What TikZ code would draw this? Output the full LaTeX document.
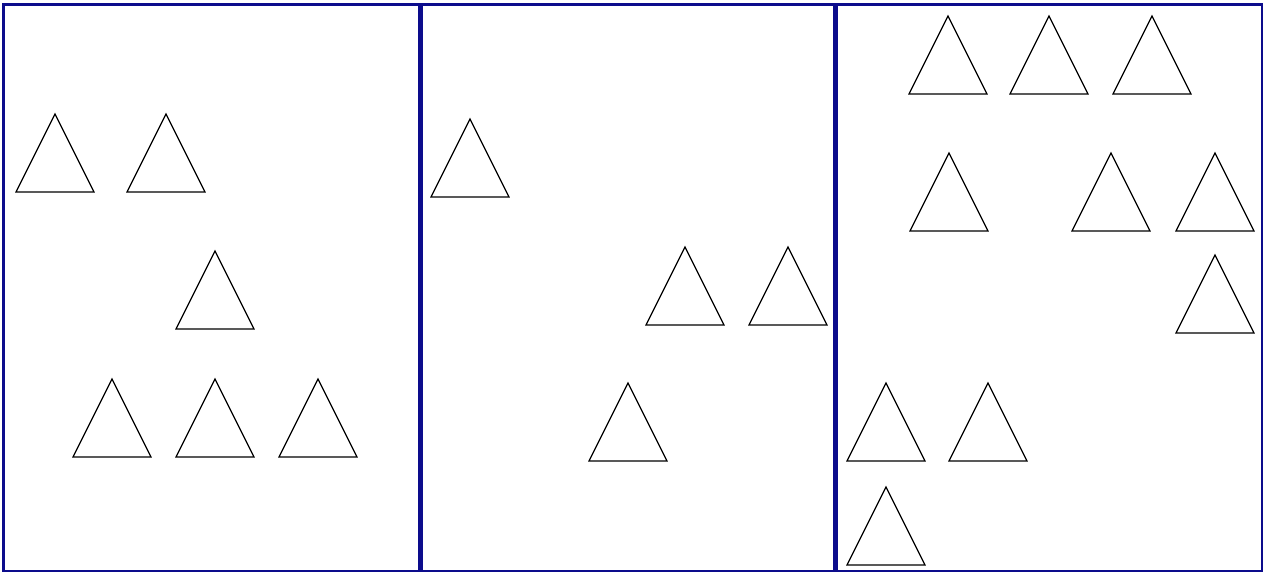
\documentclass[tikz,border=0pt]{standalone}
\definecolor{panelblue}{RGB}{12,12,140}
\tikzset{
  panel/.style={draw=panelblue, line width=2.6pt},
  tri/.style={draw=black, line width=1.2pt, line join=miter}
}
\begin{document}
\begin{tikzpicture}[x=1pt,y=-1pt]
\useasboundingbox (0,0) rectangle (1266,574);
\fill[white] (0,0) rectangle (1266,574);
% panels
\draw[panel] (3.5,4.5) rectangle (419,571);
\draw[panel] (421.5,4.5) rectangle (834.5,571);
\draw[panel] (836.5,4.5) rectangle (1262,571);
% triangles (apex coordinates)
\foreach \x/\y in {55/114, 166/114, 215/251, 112/379, 215/379, 318/379,
                   470/119, 685/247, 788/247, 628/383,
                   948/16, 1049/16, 1152/16, 949/153, 1111/153, 1215/153,
                   1215/255, 886/383, 988/383, 886/487}
  \draw[tri] (\x,\y) -- (\x-39,\y+78) -- (\x+39,\y+78) -- cycle;
\end{tikzpicture}
\end{document}
